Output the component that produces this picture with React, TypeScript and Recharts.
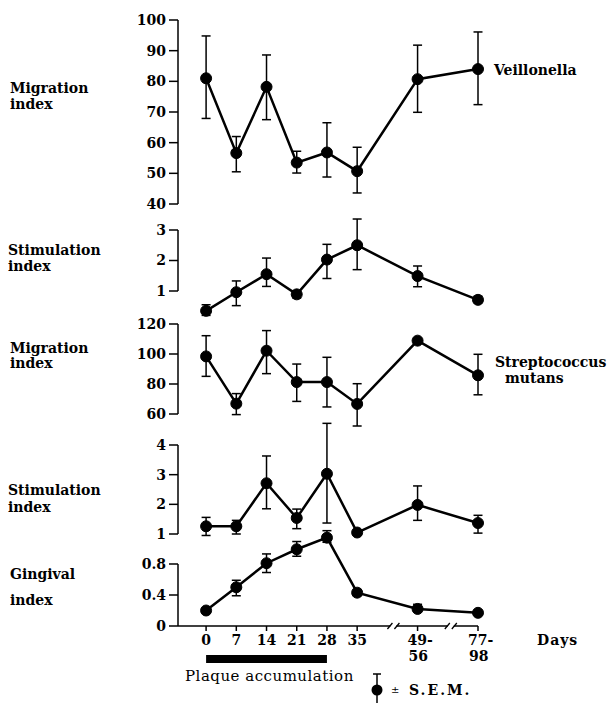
import React from 'react'
import { LineChart, Line, XAxis, YAxis, ErrorBar, ReferenceLine, ReferenceDot } from 'recharts'

// days after start; the axis is broken after day 35
const dayLabels = ['0', '7', '14', '21', '28', '35', '49-56', '77-98']
const dayPositions = [0, 1, 2, 3, 4, 5, 7, 9]
const axisBreaks = [6.2, 8.1]

// Veillonella
const veilMigration = [81, 56.6, 78.2, 53.5, 56.8, 50.7, 80.7, 84]
const veilMigrationSem = [[13.1, 13.8], [6.1, 5.4], [10.7, 10.4], [3.4, 3.7], [8, 9.7], [7.1, 7.8], [10.8, 11.1], [11.6, 12.1]]
const veilStimulation = [0.35, 0.96, 1.55, 0.89, 2.03, 2.5, 1.49, 0.71]
const veilStimulationSem = [[0.15, 0.2], [0.44, 0.37], [0.4, 0.53], [0.12, 0.12], [0.62, 0.5], [0.8, 0.86], [0.35, 0.33], [0.1, 0.12]]

// Streptococcus mutans
const mutansMigration = [98.4, 66.9, 102.2, 81.3, 81.3, 66.7, 108.9, 85.8]
const mutansMigrationSem = [[13.3, 13.8], [7.3, 6.7], [15.3, 13.4], [12.9, 12], [16.6, 16.5], [14.7, 13.5], [1, 1], [13, 14]]
const mutansStimulation = [1.26, 1.26, 2.71, 1.54, 3.03, 1.05, 1.98, 1.37]
const mutansStimulationSem = [[0.31, 0.3], [0.26, 0.2], [0.86, 0.92], [0.36, 0.3], [1.66, 1.7], [0.05, 0.05], [0.52, 0.64], [0.34, 0.26]]

const gingival = [0.2, 0.5, 0.81, 0.99, 1.14, 0.43, 0.22, 0.17]
const gingivalSem = [[0, 0], [0.11, 0.09], [0.12, 0.12], [0.09, 0.1], [0.06, 0.09], [0.04, 0.04], [0.04, 0.06], [0.03, 0.03]]

const migrationTicks = [40, 50, 60, 70, 80, 90, 100]
const stimTicksA = [1, 2, 3]
const mutansTicks = [60, 80, 100, 120]
const stimTicksB = [1, 2, 3, 4]
const gingivalTicks = [0, 0.4, 0.8]

// plaque accumulation period, in axis positions (day 0 to day 28)
const plaquePeriod = [0, 4]

const W = 611
const H = 703
const PLOT_LEFT = 178
const PLOT_RIGHT = 478
const AXIS_Y = 626
const X_DOMAIN: [number, number] = [-0.93, 9]
const FONT = '"DejaVu Serif", serif'

const rows = (values: number[], sem: number[][]) =>
  dayPositions.map((pos, i) => ({ pos, value: values[i], sem: sem[i] }))

function DayTick({ x, y, payload }: any) {
  const label = dayLabels[dayPositions.indexOf(payload.value)]
  if (label.includes('-')) {
    const [a, b] = label.split('-')
    return (
      <text x={x - 10} y={y} textAnchor="start" fontFamily={FONT} fontSize={14} fontWeight="bold" fill="#000">
        <tspan x={x - 10} dy={12}>{a}-</tspan>
        <tspan x={x - 9} dy={16}>{b}</tspan>
      </text>
    )
  }
  return (
    <text x={x} y={y + 12} textAnchor="middle" fontFamily={FONT} fontSize={14} fontWeight="bold" fill="#000">
      {label}
    </text>
  )
}

function BreakMark({ cx, cy }: any) {
  return (
    <g>
      <rect x={cx - 3} y={cy - 2} width={6} height={4} fill="#fff" />
      <line x1={cx - 6} y1={cy + 3} x2={cx - 1} y2={cy - 3} stroke="#000" strokeWidth={1.3} />
      <line x1={cx + 1} y1={cy + 3} x2={cx + 6} y2={cy - 3} stroke="#000" strokeWidth={1.3} />
    </g>
  )
}

type PanelProps = {
  values: number[]
  sem: number[][]
  ticks: number[]
  hiPx: number
  loPx: number
  last?: boolean
}

function Panel({ values, sem, ticks, hiPx, loPx, last }: PanelProps) {
  const plotBottom = last ? AXIS_Y : H
  const lo = ticks[0]
  const hi = ticks[ticks.length - 1]
  const k = (loPx - hiPx) / (hi - lo)
  const domain: [number, number] = [lo - (plotBottom - loPx) / k, hi + hiPx / k]
  const barY = lo - (659 - AXIS_Y) / k

  return (
    <div style={{ position: 'absolute', left: 0, top: 0 }}>
      <LineChart width={W} height={H} data={rows(values, sem)}
        margin={{ top: 0, right: W - PLOT_RIGHT, bottom: 0, left: 0 }}>
        <XAxis type="number" dataKey="pos" domain={X_DOMAIN} ticks={dayPositions}
          hide={!last} height={H - AXIS_Y} tickSize={5} tickMargin={2}
          axisLine={{ stroke: '#000', strokeWidth: 1.5 }} tickLine={{ stroke: '#000', strokeWidth: 1.5 }}
          tick={<DayTick />} interval={0} />
        <YAxis type="number" domain={domain} ticks={ticks} width={PLOT_LEFT}
          axisLine={false} tickSize={9} tickMargin={3} interval={0}
          tickLine={{ stroke: '#000', strokeWidth: 1.5 }}
          tick={{ fontFamily: FONT, fontSize: 14, fontWeight: 'bold', fill: '#000' }} />
        <ReferenceLine segment={[{ x: X_DOMAIN[0], y: lo }, { x: X_DOMAIN[0], y: hi }]}
          stroke="#000" strokeWidth={1.5} ifOverflow="visible" />
        {last && axisBreaks.map(b => (
          <ReferenceDot key={b} x={b} y={lo} ifOverflow="visible" shape={<BreakMark />} />
        ))}
        {last && (
          <ReferenceLine segment={[{ x: plaquePeriod[0], y: barY }, { x: plaquePeriod[1], y: barY }]}
            stroke="#000" strokeWidth={8} ifOverflow="visible" />
        )}
        <Line dataKey="value" stroke="#000" strokeWidth={2.5}
          dot={{ r: 5.5, fill: '#000', stroke: '#000', strokeWidth: 1 }} isAnimationActive={false}>
          <ErrorBar dataKey="sem" width={4.5} stroke="#000" strokeWidth={1.5} isAnimationActive={false} />
        </Line>
      </LineChart>
    </div>
  )
}

const textStyle: React.CSSProperties = {
  position: 'absolute', fontFamily: FONT, fontSize: 14, fontWeight: 'bold',
  lineHeight: '14px', whiteSpace: 'nowrap', color: '#000',
}

function Label({ x, y, children, style }: { x: number; y: number; children: React.ReactNode; style?: React.CSSProperties }) {
  return <div style={{ ...textStyle, left: x, top: y - 7, ...style }}>{children}</div>
}

export default function App() {
  return (
    <div style={{ position: 'absolute', left: 0, top: 0, width: W, height: H, background: '#fff', overflow: 'hidden' }}>
      <Panel values={veilMigration} sem={veilMigrationSem} ticks={migrationTicks} hiPx={20} loPx={204} />
      <Panel values={veilStimulation} sem={veilStimulationSem} ticks={stimTicksA} hiPx={230} loPx={291} />
      <Panel values={mutansMigration} sem={mutansMigrationSem} ticks={mutansTicks} hiPx={324} loPx={414} />
      <Panel values={mutansStimulation} sem={mutansStimulationSem} ticks={stimTicksB} hiPx={445} loPx={534} />
      <Panel values={gingival} sem={gingivalSem} ticks={gingivalTicks} hiPx={564} loPx={626} last />

      <Label x={10} y={88}>Migration</Label>
      <Label x={10} y={104}>index</Label>
      <Label x={8} y={250}>Stimulation</Label>
      <Label x={8} y={266}>index</Label>
      <Label x={10} y={348}>Migration</Label>
      <Label x={10} y={363}>index</Label>
      <Label x={8} y={490}>Stimulation</Label>
      <Label x={8} y={507}>index</Label>
      <Label x={10} y={574}>Gingival</Label>
      <Label x={10} y={600}>index</Label>

      <Label x={494} y={70}>Veillonella</Label>
      <Label x={495} y={362}>Streptococcus</Label>
      <Label x={505} y={378}>mutans</Label>

      <Label x={537} y={640} style={{ letterSpacing: 1 }}>Days</Label>
      <Label x={185} y={676} style={{ fontWeight: 'normal', fontSize: 15, letterSpacing: 0.5 }}>Plaque accumulation</Label>

      <svg width={20} height={40} style={{ position: 'absolute', left: 367, top: 670 }}>
        <line x1={10} y1={4} x2={10} y2={40} stroke="#000" strokeWidth={1.5} />
        <line x1={6} y1={4} x2={14} y2={4} stroke="#000" strokeWidth={1.5} />
        <circle cx={10} cy={20} r={5.5} fill="#000" />
      </svg>
      <Label x={391} y={690} style={{ fontWeight: 'normal', fontSize: 10 }}>±</Label>
      <Label x={409} y={690} style={{ letterSpacing: 2 }}>S.E.M.</Label>
    </div>
  )
}
